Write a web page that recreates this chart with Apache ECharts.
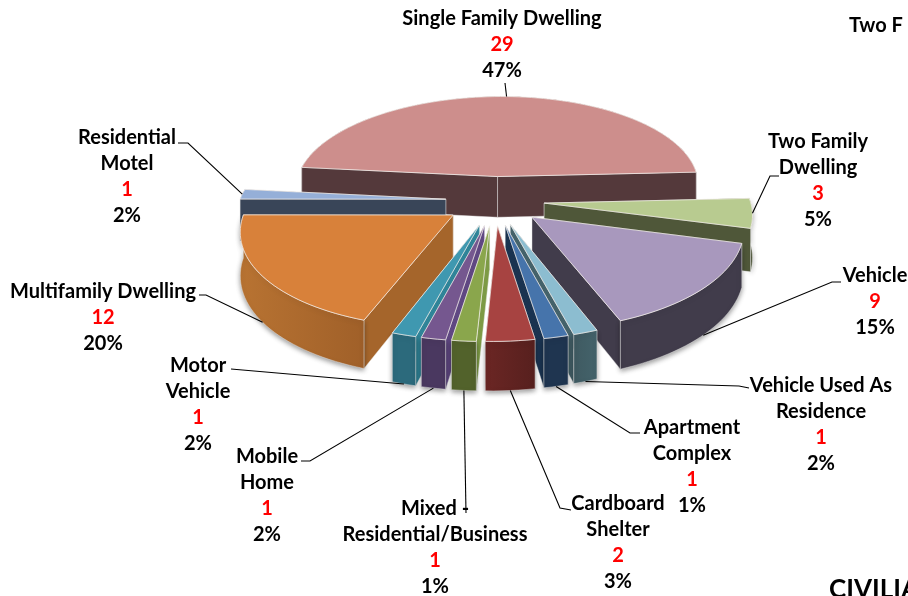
<!DOCTYPE html>
<html>
<head>
<meta charset="utf-8">
<style>html,body{margin:0;padding:0;background:#fff;overflow:hidden}#c{width:908px;height:596px}</style>
<script src="https://cdn.jsdelivr.net/npm/echarts@6/dist/echarts.min.js"></script>
</head>
<body>
<div id="c"></div>
<script>
// ---- data, clockwise from the Single Family slice ----
const categories = ['Single Family\u00a0Dwelling','Two Family\nDwelling','Vehicle','Vehicle Used As\nResidence','Apartment\nComplex','Cardboard\nShelter','Mixed -\nResidential/Business','Mobile\nHome','Motor\nVehicle','Multifamily\u00a0Dwelling','Residential\nMotel'];
const counts = [29,3,9,1,1,2,1,1,1,12,1];
const percentLabels = ['47%','5%','15%','2%','1%','3%','1%','2%','2%','20%','2%'];
const clippedTexts = ['Two F','CIVILIA'];

// ---- styles ----
const topColors  = ['#CD8E8C','#B8CB90','#A898BD','#8CBDD0','#4674AB','#A74341','#8AA64C','#75578F','#3F98B0','#D8813A','#95AFD8'];
const wallColors = [['#54393B','#54393B'],['#4F5739','#4F5739'],['#413C4B','#413C4B'],['#3F5A61','#44636B'],['#1F3550','#1F3550'],['#6B2624','#57201E'],['#52622B','#52622B'],['#4A3860','#4A3860'],['#2C6A7C','#2C6A7C'],['#B87332','#A06029'],['#394558','#394558']];
const faceColors = ['#54393B','#4F5739','#413C4B','#44626A','#1A3350','#5E2320','#7D9A45','#5F4782','#2F8498','#A5652B','#394558'];

// ---- geometry of the exploded, tilted pie ----
const startAngle = -84, cx = 495, cy = 200.5, R = 206, Ry = 95, persp = 0.12, shear = -5, explodeU = 0.24, explodeV = 0.26, depth = 42;
// label anchors: centre x, first-line y, and the leader elbow points next to the text
const labelLayout = [
 {x:502,y:19, leader:[[505,83]]},
 {x:818,y:142,leader:[[779,176],[770,176]]},
 {x:875,y:276,leader:[[841,282],[832,282]]},
 {x:821,y:386,leader:[[749,388],[739,386]]},
 {x:692,y:428,leader:[[640,433],[630,433]]},
 {x:618,y:504,leader:[[571,510],[560,508]]},
 {x:435,y:509,leader:[[466,513]]},
 {x:267,y:457,leader:[[301,461],[310,461]]},
 {x:198,y:366,leader:[[231,369]]},
 {x:103,y:292,leader:[[199,295],[206,295]]},
 {x:127,y:138,leader:[[178,143],[188,143]]}
];
const lineH = 25.8, fontName = 'Lato, "Open Sans", sans-serif', fontSize = 20;

const total = counts.reduce((a,b)=>a+b,0);
const rad = d => d*Math.PI/180;
const bounds = []; let acc = startAngle;
counts.forEach(c => { const a = acc, b = acc + c/total*360; bounds.push([a,b]); acc = b; });

function project(u, v, h) {
  const s = 1/(1 - persp*v);
  return [cx + (R*u + shear*v)*s, cy + Ry*v*s + h*depth*s];
}
function slicePoint(i, ang, r, h) {
  const mid = rad((bounds[i][0]+bounds[i][1])/2), a = rad(ang);
  return project(explodeU*Math.sin(mid) + r*Math.sin(a), -explodeV*Math.cos(mid) - r*Math.cos(a), h);
}
function arc(i, h) {
  const [a,b] = bounds[i], n = Math.max(2, Math.ceil((b-a)/2)), pts = [];
  for (let k=0;k<=n;k++) pts.push(slicePoint(i, a+(b-a)*k/n, 1, h));
  return pts;
}
const avgY = pts => pts.reduce((s,p)=>s+p[1],0)/pts.length;

function renderItem(params, api) {
  const i = params.dataIndex, [a,b] = bounds[i], mid = (a+b)/2;
  const base = Math.round((1 - Math.cos(rad(mid)))*100)*10;
  const front = Math.cos(rad(mid)) < 0;
  const top = arc(i,0), bottom = arc(i,1);
  const ap0 = slicePoint(i,0,0,0), ap1 = slicePoint(i,0,0,1);
  const rimPoly = top.concat(bottom.slice().reverse());
  const startFace = [ap0, top[0], bottom[0], ap1];
  const endFace = [ap0, top[top.length-1], bottom[bottom.length-1], ap1];
  const rimFill = new echarts.graphic.LinearGradient(0,0,1,0,[{offset:0,color:wallColors[i][0]},{offset:1,color:wallColors[i][1]}]);
  const walls = [
    {pts:startFace, fill:faceColors[i], rim:false},
    {pts:endFace, fill:faceColors[i], rim:false},
    {pts:rimPoly, fill:rimFill, rim:true}
  ].sort((p,q)=>avgY(p.pts)-avgY(q.pts));
  const children = walls.map((w,j)=>({
    type:'polygon', z2:base+j, shape:{points:w.pts},
    style:Object.assign({fill:w.fill, stroke:'rgba(235,235,235,0.55)', lineWidth:0.8},
      (front && w.rim) ? {shadowBlur:5, shadowColor:'rgba(0,0,0,0.4)', shadowOffsetY:2} : {})
  }));
  children.push({type:'polygon', z2:base+5, shape:{points:[ap0].concat(top)},
    style:{fill:topColors[i], stroke:'rgba(245,240,235,0.8)', lineWidth:0.9}});

  // leader line, ending on the slice's rim
  const end = slicePoint(i, mid, 1, Math.cos(rad(mid)) < -0.3 ? 1 : 0);
  children.push({type:'polyline', z2:5000, shape:{points:labelLayout[i].leader.concat([end])},
    style:{fill:'none', stroke:'#000', lineWidth:1.1}});

  // label: name lines, count in red, percentage
  const lines = categories[i].replace(/\u00a0/g,' ').split('\n');
  const rows = lines.map(t=>[t,'#000']).concat([[String(api.value(0)),'#FF0000'],[percentLabels[i],'#000']]);
  rows.forEach((r,k)=>children.push({type:'text', z2:5001, x:labelLayout[i].x, y:labelLayout[i].y+k*lineH,
    style:{text:r[0], fill:r[1], font:'bold '+fontSize+'px '+fontName, textAlign:'center', textVerticalAlign:'middle'}}));
  return {type:'group', children};
}

const chart = echarts.init(document.getElementById('c'), null, {renderer:'canvas'});
chart.setOption({
  animation:false,
  backgroundColor:'#fff',
  series:[{type:'custom', coordinateSystem:'none', renderItem, silent:true, data:counts.map(v=>[v]), clip:false}],
  graphic:[
    {type:'text', left:849, top:16, silent:true, style:{text:clippedTexts[0], fill:'#000', font:'bold '+fontSize+'px '+fontName}},
    {type:'text', left:829, top:577, silent:true, style:{text:clippedTexts[1], fill:'#000', font:'bold 26px '+fontName}}
  ]
});
</script>
</body>
</html>
